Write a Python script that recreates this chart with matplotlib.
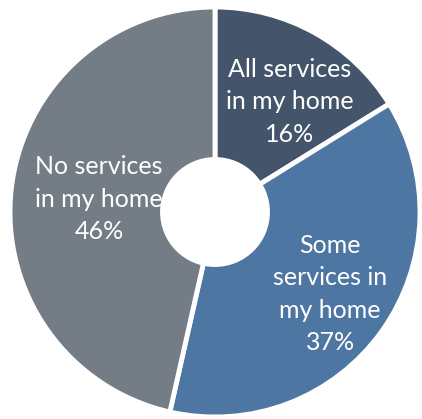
import numpy as np
import matplotlib
matplotlib.use("Agg")
import matplotlib.pyplot as plt
from matplotlib.patches import Circle

categories = ["All services\nin my home", "Some\nservices in\nmy home", "No services\nin my home"]
shares = [16, 37, 46]
colors = ["#44546A", "#4E76A2", "#747C86"]
label_radius = [0.65, 0.69, 0.57]
label_turn = [-5, 0, 0]  # degrees, nudges a label off the wedge's middle angle

plt.rcParams["font.family"] = ["Lato", "DejaVu Sans"]

W, H, dpi = 422, 419, 100
fig = plt.figure(figsize=(W / dpi, H / dpi), dpi=dpi)
ax = fig.add_axes([0, 0, 1, 1])

wedges, _ = ax.pie(
    shares, colors=colors, startangle=90, counterclock=False,
    radius=1.0, wedgeprops=dict(edgecolor="white", linewidth=3.5),
)

# labels near the middle angle of each wedge
for w, txt, val, r, turn in zip(wedges, categories, shares, label_radius, label_turn):
    mid = np.deg2rad((w.theta1 + w.theta2) / 2 + turn)
    ax.text(r * np.cos(mid), r * np.sin(mid), f"{txt}\n{val}%",
            ha="center", va="center", color="white", fontsize=18,
            linespacing=1.5, zorder=3)

# donut hole drawn above the labels
ax.add_patch(Circle((0, 0), 0.268, facecolor="white", edgecolor="none", zorder=5))

# pixel-mapped limits: centre at (215, 212) px, radius 205 px
cx, cy, R = 215, 212, 205
ax.set_xlim(-cx / R, (W - cx) / R)
ax.set_ylim(-(H - cy) / R, cy / R)
ax.set_aspect("auto")
ax.axis("off")

fig.savefig("out.png", dpi=dpi)
